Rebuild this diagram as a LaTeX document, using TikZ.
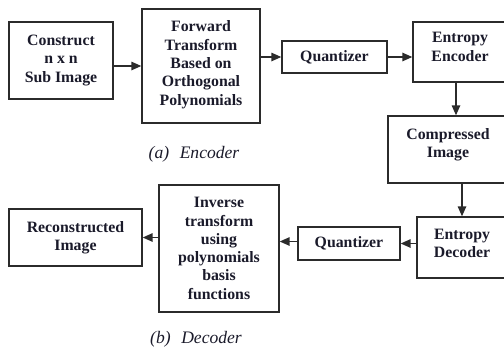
\documentclass[tikz,border=0pt]{standalone}
\usepackage{fontspec}
\setmainfont{Liberation Serif}
\usepackage{tikz}
\usetikzlibrary{arrows.meta,positioning,calc}
\definecolor{codecline}{HTML}{2B2B2B}
\definecolor{codectext}{HTML}{1A1A2A}

\begin{document}
\begin{tikzpicture}[x=0.02cm,y=-0.02cm,
  block/.style={draw=codecline,line width=0.8pt,fill=white,align=center,inner sep=2pt,text=codectext,font=\fontsize{9}{10.4}\selectfont\bfseries},
  flow/.style={-{Triangle[length=0.2cm,width=0.17cm]},codecline,line width=0.8pt},
  caption/.style={text=codectext,font=\fontsize{10}{12}\selectfont\itshape}]
\useasboundingbox (0,0) rectangle (504,352);
\clip (0,0) rectangle (504,352);
% encoder
\node[block,minimum width=2.08cm,minimum height=1.54cm] (construct) at (61,60.5) {Construct\\n x n\\Sub Image};
\node[block,minimum width=2.36cm,minimum height=2.28cm] (forward) at (201,66) {Forward\\Transform\\Based on\\Orthogonal\\Polynomials\\[-7pt]};
\node[block,minimum width=2.1cm,minimum height=0.64cm] (quantA) at (334.5,57) {Quantizer};
\node[block,minimum width=1.88cm,minimum height=1.2cm] (entenc) at (460,52) {Entropy\\Encoder\\[-4.5pt]};
\node[block,minimum width=2.4cm,minimum height=1.34cm] (compressed) at (448,149.5) {Compressed\\Image\\[-3pt]};
\node[caption] (capA) at (194,154) {(a)\hspace{0.6em}Encoder};
% decoder
\node[block,minimum width=1.8cm,minimum height=1.22cm] (entdec) at (462,247.5) {Entropy\\Decoder\\[-6pt]};
\node[block,minimum width=2.04cm,minimum height=0.66cm] (quantB) at (349,243.5) {Quantizer};
\node[block,minimum width=2.4cm,minimum height=2.54cm] (inverse) at (219,248.5) {Inverse\\transform\\using\\polynomials\\basis\\functions};
\node[block,minimum width=2.66cm,minimum height=1.14cm] (recon) at (75.5,237.5) {Reconstructed\\Image};
\node[caption] (capB) at (196,339) {(b)\hspace{0.6em}Decoder};
% connectors
\draw[flow] (construct.east |- forward) -- (forward);
\draw[flow] (forward.east |- quantA) -- (quantA);
\draw[flow] (quantA) -- (entenc.west |- quantA);
\draw[flow] ([xshift=-0.08cm]entenc.south) -- ([xshift=-0.08cm]entenc.south |- compressed.north);
\draw[flow] (compressed.south -| entdec) -- (entdec);
\draw[flow] (entdec.west |- quantB) -- (quantB);
\draw[flow] ([yshift=0.04cm]quantB.west) -- ([yshift=0.04cm]inverse.east |- quantB);
\draw[flow] (inverse.west |- recon) -- (recon);
\end{tikzpicture}
\end{document}
